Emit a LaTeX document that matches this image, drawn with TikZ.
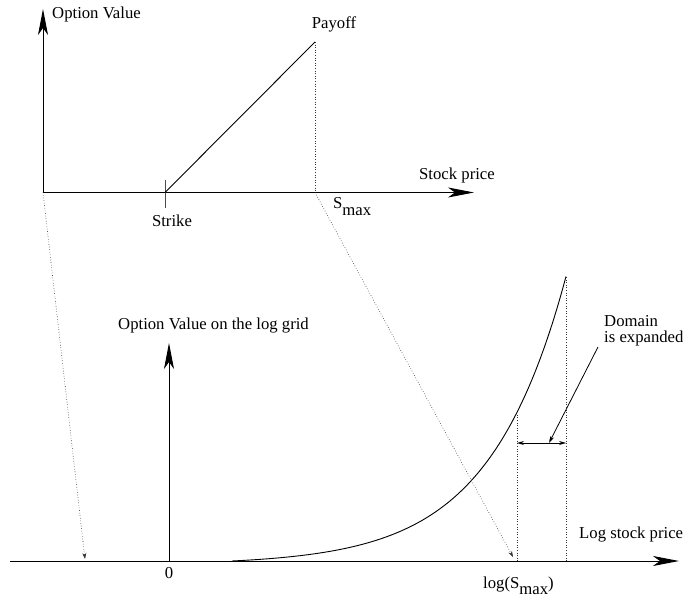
\documentclass[tikz,border=0pt]{standalone}
\usepackage{fontspec}
\setmainfont{Liberation Serif}
\usetikzlibrary{arrows.meta}
\begin{document}
\begin{tikzpicture}[x=1pt,y=-1pt,
  lbl/.style={inner sep=0pt, font=\fontsize{16.7}{19}\selectfont},
  axis/.style={line width=0.9pt, -{Stealth[length=26pt,width=10pt,inset=7pt]}},
  thin/.style={line width=0.9pt},
  dots/.style={dotted, line width=0.6pt, black!80},
  dotarrow/.style={dots, -{Stealth[length=6pt,width=4pt]}},
  smallarrow/.style={line width=0.8pt, -{Stealth[length=7pt,width=4pt]}}]
\useasboundingbox (0,0) rectangle (683,601);
% top plot points
\coordinate (O1) at (43,192.5);
\coordinate (Y1) at (43,9);
\coordinate (X1) at (474,192.5);
\coordinate (K) at (165,192.5);
\coordinate (Ka) at (165,180);
\coordinate (Kb) at (165,208);
\coordinate (P) at (315,42);
\coordinate (Sm) at (315,192.5);
% bottom plot points
\coordinate (L0) at (10,561);
\coordinate (L1) at (679,561);
\coordinate (Z) at (169,561);
\coordinate (Y2) at (169,343);
\coordinate (T1) at (85,559);
\coordinate (T2) at (513,557);
\coordinate (Lm) at (517,561);
\coordinate (Lmt) at (517,413);
\coordinate (E) at (566,561);
\coordinate (Et) at (566,277);
\coordinate (Da) at (517,443);
\coordinate (Db) at (566,443);
\coordinate (Dm) at (549,443);
\coordinate (Ds) at (598,347);
% axes
\draw[axis] (O1) -- (Y1);
\draw[axis] (O1) -- (X1);
\draw[line width=1pt, black!70] (Ka) -- (Kb);
\draw[thin] (K) -- (P);
\draw[dots] (P) -- (Sm);
\draw[axis] (L0) -- (L1);
\draw[axis] (Z) -- (Y2);
% curve
\draw[thin] plot[domain=232:566, samples=80, smooth] (\x, {561-3.75*(exp(0.013*(\x-232))-1)});
% dotted mappings
\draw[dotarrow] (O1) -- (T1);
\draw[dotarrow] (Sm) -- (T2);
\draw[dots] (Lm) -- (Lmt);
\draw[dots] (E) -- (Et);
\draw[line width=0.8pt, {Stealth[length=7pt,width=4pt]}-{Stealth[length=7pt,width=4pt]}] (Da) -- (Db);
\draw[smallarrow] (Ds) -- (Dm);
% labels
\node[lbl, anchor=west] (ov) at (52,14) {Option Value};
\node[lbl] (pay) at (334,24) {Payoff};
\node[lbl] (sp) at (457,175) {Stock price};
\node[lbl] (st) at (172,221) {Strike};
\node[lbl, anchor=base west] (smax) at (333,209) {S\raisebox{-6.5pt}{max}};
\node[lbl, anchor=west] (ovl) at (118,326) {Option Value on the log grid};
\node[lbl] (zero) at (169,573) {0};
\node[lbl, anchor=base west] (lsm) at (483,588) {log(S\raisebox{-6.5pt}{max})};
\node[lbl, anchor=west] (lsp) at (579,535) {Log stock price};
\node[lbl, anchor=west] (dom) at (604,321) {Domain};
\node[lbl, anchor=west] (exp) at (604,338) {is expanded};
\end{tikzpicture}
\end{document}
